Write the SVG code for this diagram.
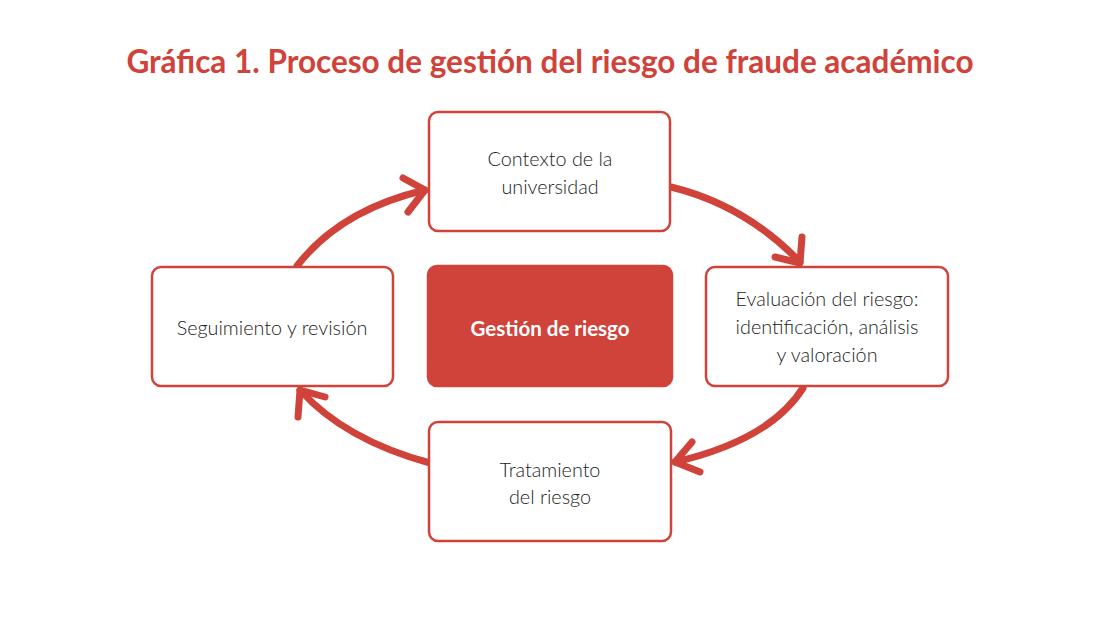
<svg xmlns="http://www.w3.org/2000/svg" width="1100" height="625" viewBox="0 0 1100 625">
<style>
.box{fill:#fff;stroke:#d0433a;stroke-width:2.5}
.core{fill:#d0433a;stroke:#d0433a;stroke-width:2.5}
.t{font-family:Lato,"Open Sans",sans-serif;font-size:19.8px;font-weight:300;fill:#222;text-anchor:middle}
.tb{font-family:Lato,"Open Sans",sans-serif;font-size:20.5px;font-weight:bold;fill:#fff;text-anchor:middle}
.title{font-family:Lato,"Open Sans",sans-serif;font-size:31.5px;font-weight:bold;fill:#d0433a;text-anchor:middle}
.arr{fill:none;stroke:#d0433a;stroke-width:7;stroke-linecap:round;stroke-linejoin:round}
</style>
<rect width="1100" height="625" fill="#fff"/>
<text class="title" x="550" y="73">Gráfica 1. Proceso de gestión del riesgo de fraude académico</text>
<g id="connectors">
<path class="arr" d="M671,187 Q745,205 800,262"/>
<path class="arr" d="M775,257 L800,263 L802,237"/>
<path class="arr" d="M803,388 Q770,440 675,462"/>
<path class="arr" d="M692,442 L675,462 L700,472"/>
<path class="arr" d="M430,463 Q345,440 300,390"/>
<path class="arr" d="M325,397 L300,390 L298,417"/>
<path class="arr" d="M297,266 Q340,210 425,190"/>
<path class="arr" d="M403,178 L425,190 L408,212"/>
</g>
<g id="contexto">
<rect class="box" x="429" y="112" width="241" height="119" rx="9"/>
<text class="t" x="550" y="166">Contexto de la</text>
<text class="t" x="550" y="194">universidad</text>
</g>
<g id="gestion">
<rect class="core" x="428" y="266" width="244" height="120" rx="9"/>
<text class="tb" x="550" y="336">Gestión de riesgo</text>
</g>
<g id="evaluacion">
<rect class="box" x="706" y="267" width="242" height="119" rx="9"/>
<text class="t" x="827" y="306">Evaluación del riesgo:</text>
<text class="t" x="827" y="334">identificación, análisis</text>
<text class="t" x="827" y="362">y valoración</text>
</g>
<g id="tratamiento">
<rect class="box" x="429" y="422" width="242" height="119" rx="9"/>
<text class="t" x="550" y="477">Tratamiento</text>
<text class="t" x="550" y="504">del riesgo</text>
</g>
<g id="seguimiento">
<rect class="box" x="152" y="267" width="241" height="119" rx="9"/>
<text class="t" x="272" y="335">Seguimiento y revisión</text>
</g>
</svg>
